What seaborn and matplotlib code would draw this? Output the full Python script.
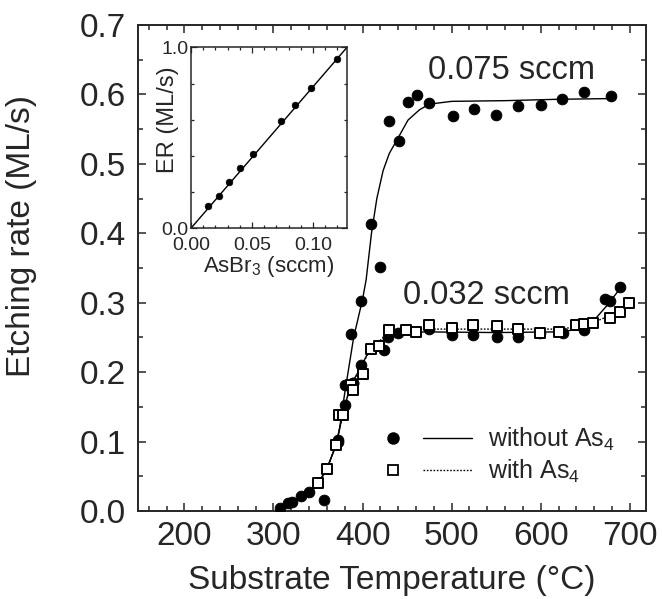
import numpy as np
import pandas as pd
import matplotlib
matplotlib.use("Agg")
import matplotlib.pyplot as plt
import seaborn as sns
from matplotlib.lines import Line2D
from matplotlib.legend_handler import HandlerTuple
from matplotlib.ticker import MultipleLocator, FormatStrFormatter

# ---------------- data ----------------
# 0.075 sccm, without As4 (filled circles)
hi_T = [357, 372, 380, 389, 387, 398, 410, 420, 430, 441, 451, 461, 475, 501, 525, 550, 575, 600, 624, 649, 679]
hi_ER = [0.016, 0.100, 0.182, 0.184, 0.255, 0.303, 0.414, 0.351, 0.562, 0.533, 0.589, 0.599, 0.588, 0.569,
         0.579, 0.571, 0.583, 0.585, 0.594, 0.603, 0.598]

# 0.032 sccm, without As4 (filled circles)
lo_T = [307, 316, 321, 331, 340, 372, 380, 389, 398, 424, 429, 440, 475, 500, 524, 551, 575, 599, 625, 649,
        672, 678, 689]
lo_ER = [0.005, 0.012, 0.013, 0.021, 0.028, 0.102, 0.153, 0.184, 0.210, 0.232, 0.251, 0.256, 0.262, 0.254,
         0.254, 0.251, 0.250, 0.257, 0.257, 0.260, 0.305, 0.302, 0.323]

# 0.032 sccm, with As4 (open squares)
as4_T = [350, 360, 370, 374, 378, 387, 389, 400, 409, 419, 430, 449, 460, 475, 500, 524, 551, 575, 599, 620,
         640, 649, 659, 678, 689, 699]
as4_ER = [0.040, 0.060, 0.095, 0.138, 0.138, 0.182, 0.174, 0.197, 0.233, 0.237, 0.261, 0.261, 0.258, 0.268,
          0.263, 0.268, 0.266, 0.262, 0.257, 0.258, 0.268, 0.269, 0.271, 0.278, 0.286, 0.300]

# fitted curves
fit_hi_T = [305, 318, 333, 348, 359, 370, 374, 380, 390, 400, 404, 410, 416, 423, 430, 441, 451, 464, 475,
            500, 560, 620, 679]
fit_hi_ER = [0.0, 0.011, 0.021, 0.035, 0.059, 0.093, 0.117, 0.170, 0.250, 0.305, 0.333, 0.400, 0.450, 0.490,
             0.515, 0.540, 0.563, 0.578, 0.586, 0.590, 0.591, 0.593, 0.594]
fit_lo_T = [305, 318, 333, 350, 360, 370, 378, 386, 395, 405, 415, 425, 440, 470, 550, 620, 645, 660, 675, 690]
fit_lo_ER = [0.0, 0.011, 0.021, 0.040, 0.060, 0.095, 0.140, 0.180, 0.200, 0.225, 0.238, 0.248, 0.255, 0.258,
             0.257, 0.258, 0.262, 0.275, 0.297, 0.322]
fit_as4_T = [305, 318, 333, 350, 360, 370, 378, 386, 395, 405, 415, 425, 440, 470, 550, 620, 640, 660, 680, 699]
fit_as4_ER = [0.0, 0.011, 0.021, 0.040, 0.060, 0.095, 0.140, 0.178, 0.198, 0.224, 0.240, 0.252, 0.259, 0.262,
              0.262, 0.262, 0.265, 0.272, 0.283, 0.300]

# inset: etching rate vs AsBr3 flow
ins_flow = [0.0139, 0.0226, 0.031, 0.040, 0.051, 0.0736, 0.0856, 0.0986, 0.1196]
ins_ER = [0.122, 0.179, 0.258, 0.335, 0.409, 0.591, 0.683, 0.775, 0.933]
ins_fit_flow = [0.0, 0.128]
ins_fit_ER = [0.0, 1.0]

# ---------------- style ----------------
sns.set_style("ticks")
plt.rcParams['font.family'] = ['Liberation Sans', 'DejaVu Sans']
plt.rcParams['mathtext.fontset'] = 'custom'
plt.rcParams['mathtext.rm'] = 'Liberation Sans'
plt.rcParams['mathtext.it'] = 'Liberation Sans'
plt.rcParams['axes.linewidth'] = 1.4

fig = plt.figure(figsize=(6.62, 5.99), dpi=100)
ax = fig.add_axes([0.2085, 0.1469, 0.7672, 0.8114])

lw = 1.0
dots = (0, (1.2, 1.2))
sns.lineplot(x=fit_hi_T, y=fit_hi_ER, ax=ax, color='black', lw=lw, sort=False, estimator=None)
sns.lineplot(x=fit_lo_T, y=fit_lo_ER, ax=ax, color='black', lw=lw, sort=False, estimator=None)
sns.lineplot(x=fit_as4_T, y=fit_as4_ER, ax=ax, color='black', lw=lw, sort=False, estimator=None,
             linestyle=dots)
sns.scatterplot(x=hi_T, y=hi_ER, ax=ax, color='black', marker='o', s=60, edgecolor='black', zorder=3)
sns.scatterplot(x=lo_T, y=lo_ER, ax=ax, color='black', marker='o', s=60, edgecolor='black', zorder=3)
sns.scatterplot(x=as4_T, y=as4_ER, ax=ax, marker='s', s=48, facecolor='white', edgecolor='black',
                linewidth=1.4, zorder=4)

ax.set_xlim(148, 718)
ax.set_ylim(0, 0.7)
ax.xaxis.set_major_locator(MultipleLocator(100))
ax.xaxis.set_minor_locator(MultipleLocator(20))
ax.yaxis.set_major_locator(MultipleLocator(0.1))
ax.yaxis.set_minor_locator(MultipleLocator(0.05))
ax.yaxis.set_major_formatter(FormatStrFormatter('%.1f'))
ax.tick_params(which='both', direction='in', top=True, right=True, labelsize=24, width=1.1)
ax.tick_params(which='major', length=6)
ax.tick_params(axis='y', which='major', pad=9)
ax.tick_params(axis='x', which='major', pad=7)
ax.tick_params(which='minor', length=3.5)
ax.set_xlabel('Substrate Temperature (°C)', fontsize=24)
ax.set_ylabel('Etching rate (ML/s)', fontsize=24)
ax.xaxis.set_label_coords(0.5, -0.112)
ax.yaxis.set_label_coords(-0.199, 0.565)

ax.text(567, 0.635, '0.075 sccm', fontsize=23.5, ha='center', va='center')
ax.text(539, 0.311, '0.032 sccm', fontsize=23.5, ha='center', va='center')

h1 = (Line2D([], [], marker='o', color='black', linestyle='none', markersize=8),
      Line2D([], [], color='black', lw=lw))
h2 = (Line2D([], [], marker='s', markerfacecolor='white', markeredgecolor='black', linestyle='none',
             markersize=7, markeredgewidth=1.3),
      Line2D([], [], color='black', lw=lw, linestyle=dots))
ax.legend([h1, h2], ['without As$_4$', 'with As$_4$'],
          handler_map={tuple: HandlerTuple(ndivide=None, pad=0.22)},
          loc='center left', bbox_to_anchor=(0.454, 0.114), frameon=False, fontsize=18,
          handlelength=4.14, handletextpad=0.64, labelspacing=0.2, borderaxespad=0, borderpad=0)

# inset
axi = fig.add_axes([0.2885, 0.619, 0.2357, 0.302])
sns.lineplot(x=ins_fit_flow, y=ins_fit_ER, ax=axi, color='black', lw=1.0, estimator=None)
sns.scatterplot(x=ins_flow, y=ins_ER, ax=axi, color='black', s=24, edgecolor='black', zorder=3)
axi.set_xlim(0, 0.128)
axi.set_ylim(0, 1.0)
axi.xaxis.set_major_locator(MultipleLocator(0.05))
axi.xaxis.set_minor_locator(MultipleLocator(0.01))
axi.yaxis.set_major_locator(MultipleLocator(1.0))
axi.yaxis.set_minor_locator(MultipleLocator(0.2))
axi.xaxis.set_major_formatter(FormatStrFormatter('%.2f'))
axi.yaxis.set_major_formatter(FormatStrFormatter('%.1f'))
axi.tick_params(which='both', direction='in', top=True, right=True, labelsize=14, width=0.9)
axi.tick_params(which='major', length=4)
axi.tick_params(axis='x', which='major', pad=6)
axi.tick_params(axis='y', which='major', pad=2)
axi.tick_params(which='minor', length=2.5)
for s in axi.spines.values():
    s.set_linewidth(1.1)
axi.set_xlabel('AsBr$_3$ (sccm)', fontsize=16, labelpad=0)
axi.set_ylabel('ER (ML/s)', fontsize=17)
axi.yaxis.set_label_coords(-0.08, 0.6)
fig.canvas.draw()
ylabs = axi.get_yticklabels()
if ylabs:
    ylabs[0].set_va('bottom')

fig.savefig('out.png', dpi=100)
